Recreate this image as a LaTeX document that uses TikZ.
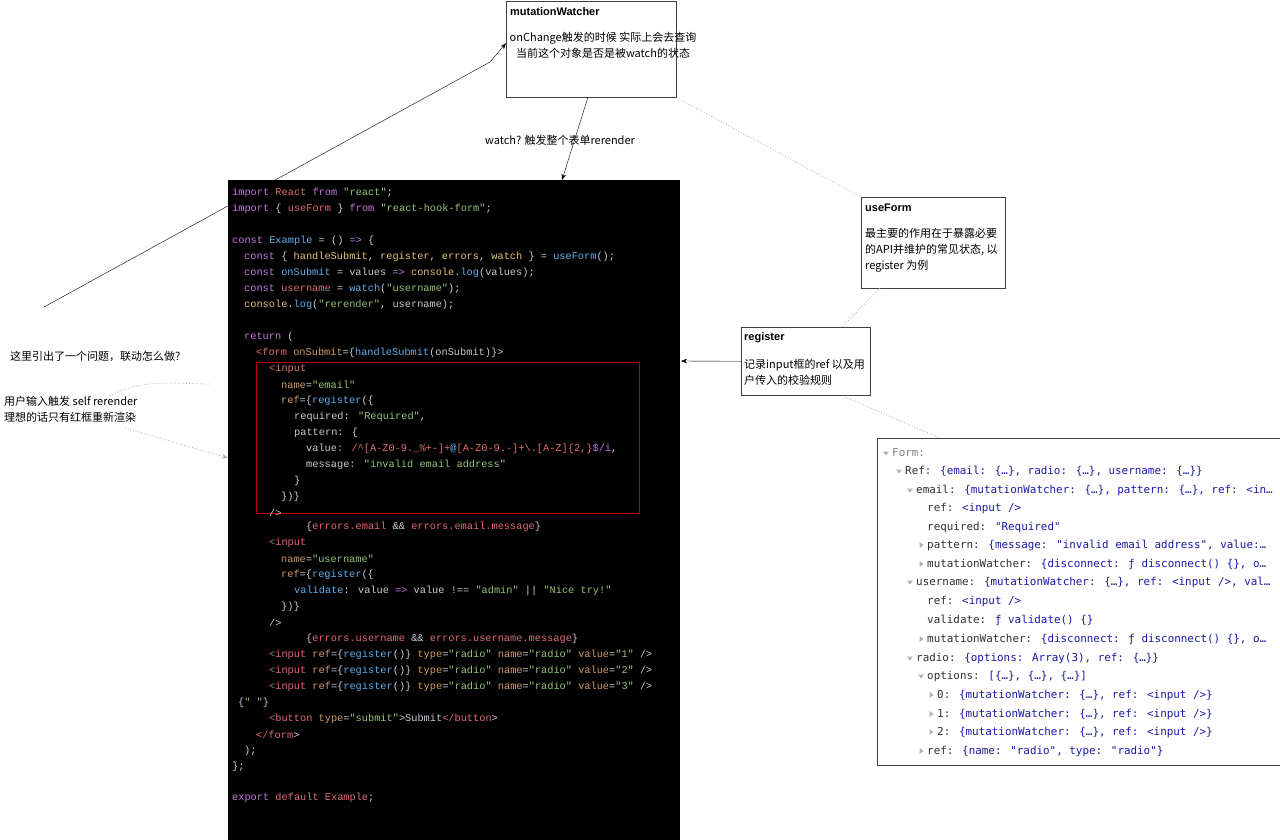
\documentclass[tikz,border=0pt]{standalone}
\usepackage{fontspec}
\setmainfont{Liberation Sans}
\newfontfamily\cjk{Noto Sans CJK SC}
\newfontfamily\codefont{Liberation Mono}
\newfontfamily\devfont{DejaVu Sans Mono}
\usetikzlibrary{arrows.meta, calc}
\definecolor{ckw}{HTML}{C678DD}
\definecolor{cvar}{HTML}{E06C75}
\definecolor{cstr}{HTML}{98C379}
\definecolor{cfn}{HTML}{61AFEF}
\definecolor{catt}{HTML}{D19A66}
\definecolor{cplain}{HTML}{C8CCD4}
\definecolor{cyel}{HTML}{E5C07B}
\definecolor{devkey}{HTML}{303030}
\definecolor{devval}{HTML}{1A1AA6}
\newcommand{\K}[1]{\textcolor{ckw}{#1}}
\newcommand{\V}[1]{\textcolor{cvar}{#1}}
\newcommand{\Str}[1]{\textcolor{cstr}{#1}}
\newcommand{\F}[1]{\textcolor{cfn}{#1}}
\newcommand{\A}[1]{\textcolor{catt}{#1}}
\newcommand{\Y}[1]{\textcolor{cyel}{#1}}
\newcommand{\DV}[1]{\textcolor{devval}{#1}}
\tikzset{
    code-line/.style={anchor=west, inner sep=0, text=cplain, font=\codefont\fontsize{10.3}{12}\selectfont},
    dev-line/.style={anchor=west, inner sep=0, text=devkey, font=\devfont\fontsize{10.9}{13}\selectfont},
    note-box/.style={draw=black!75, line width=.6pt, fill=white, anchor=north west, inner sep=0},
    note-title/.style={anchor=west, inner sep=0, font=\bfseries\fontsize{11}{13}\selectfont},
    note-text/.style={inner sep=0, font=\cjk\fontsize{11}{16}\selectfont},
    dot-line/.style={gray!70, dotted, line width=.8pt},
    open-tri/.pic={\fill[gray!60] (-3,-1.5) -- (3,-1.5) -- (0,2.5) -- cycle;},
    shut-tri/.pic={\fill[gray!60] (-1.5,-3) -- (-1.5,3) -- (2.5,0) -- cycle;},
}

\begin{document}
\begin{tikzpicture}[x=1pt, y=-1pt]
    \useasboundingbox[fill=white] (0,0) rectangle (1280,840);

    % CODE PANEL
    \node[fill=black, anchor=north west, minimum width=452, minimum height=660, inner sep=0] (CODE) at (228,180) {};
    \draw[red!75!black, line width=.8pt] (256,362) rectangle (639,513);
    \node[code-line] (L1)  at (232,193) {\K{import} \V{React} \K{from} \Str{"react"};};
    \node[code-line] (L2)  at (232,209) {\K{import} \{ \V{useForm} \} \K{from} \Str{"react-hook-form"};};
    \node[code-line] (L4)  at (232,241) {\K{const} \F{Example} = () \K{=>} \{};
    \node[code-line] (L5)  at (244,257) {\K{const} \{ \Y{handleSubmit}, \Y{register}, \Y{errors}, \Y{watch} \} = \F{useForm}();};
    \node[code-line] (L6)  at (244,273) {\K{const} \F{onSubmit} = values \K{=>} \Y{console}.\F{log}(values);};
    \node[code-line] (L7)  at (244,289) {\K{const} \V{username} = \F{watch}(\Str{"username"});};
    \node[code-line] (L8)  at (244,305) {\Y{console}.\F{log}(\Str{"rerender"}, username);};
    \node[code-line] (L10) at (244,337) {\K{return} (};
    \node[code-line] (L11) at (256,353) {\V{<form} \A{onSubmit}=\{\F{handleSubmit}(onSubmit)\}>};
    \node[code-line] (L12) at (269,369) {\V{<input}};
    \node[code-line] (L13) at (281,385) {\A{name}=\Str{"email"}};
    \node[code-line] (L14) at (281,401) {\A{ref}=\{\F{register}(\{};
    \node[code-line] (L15) at (294,417) {required: \Str{"Required"},};
    \node[code-line] (L16) at (294,433) {pattern: \{};
    \node[code-line] (L17) at (306,449) {value: \V{/\textasciicircum[A-Z0-9.\_\%+-]+}\F{@}\V{[A-Z0-9.-]+\textbackslash.[A-Z]\{2,\}}\K{\$/i},};
    \node[code-line] (L18) at (306,465) {message: \Str{"invalid email address"}};
    \node[code-line] (L19) at (294,481) {\}};
    \node[code-line] (L20) at (281,497) {\})\}};
    \node[code-line] (L21) at (269,513) {/>};
    \node[code-line] (L22) at (306,527) {\{\V{errors.email} \&\& \V{errors.email.message}\}};
    \node[code-line] (L23) at (269,543) {\V{<input}};
    \node[code-line] (L24) at (281,559) {\A{name}=\Str{"username"}};
    \node[code-line] (L25) at (281,575) {\A{ref}=\{\F{register}(\{};
    \node[code-line] (L26) at (294,591) {\F{validate}: value \K{=>} value !== \Str{"admin"} || \Str{"Nice try!"}};
    \node[code-line] (L27) at (281,607) {\})\}};
    \node[code-line] (L28) at (269,623) {/>};
    \node[code-line] (L29) at (306,639) {\{\V{errors.username} \&\& \V{errors.username.message}\}};
    \node[code-line] (L30) at (269,655) {\V{<input} \A{ref}=\{\F{register}()\} \A{type}=\Str{"radio"} \A{name}=\Str{"radio"} \A{value}=\Str{"1"} />};
    \node[code-line] (L31) at (269,671) {\V{<input} \A{ref}=\{\F{register}()\} \A{type}=\Str{"radio"} \A{name}=\Str{"radio"} \A{value}=\Str{"2"} />};
    \node[code-line] (L32) at (269,687) {\V{<input} \A{ref}=\{\F{register}()\} \A{type}=\Str{"radio"} \A{name}=\Str{"radio"} \A{value}=\Str{"3"} />};
    \node[code-line] (L33) at (238,703) {\{\Str{" "}\}};
    \node[code-line] (L34) at (269,719) {\V{<button} \A{type}=\Str{"submit"}>Submit\V{</button}>};
    \node[code-line] (L35) at (256,735) {\V{</form}>};
    \node[code-line] (L36) at (244,751) {);};
    \node[code-line] (L37) at (232,767) {\};};
    \node[code-line] (L39) at (232,798) {\K{export} \V{default} \V{Example};};

    % NOTE BOXES
    \node[note-box, minimum width=170, minimum height=96] (MW) at (506,1) {};
    \node[note-title] (MWT) at (510,12) {mutationWatcher};
    \node[note-text, align=center] (MWX) at (603,45) {onChange触发的时候 实际上会去查询\\当前这个对象是否是被watch的状态};

    \node[note-box, minimum width=144, minimum height=91] (UF) at (861,197) {};
    \node[note-title] (UFT) at (865,208) {useForm};
    \node[note-text, anchor=north west, align=left] (UFX) at (865,228) {最主要的作用在于暴露必要\\的API并维护的常见状态, 以\\register 为例};

    \node[note-box, minimum width=129, minimum height=68] (RG) at (741,327) {};
    \node[note-title] (RGT) at (744,338) {register};
    \node[note-text, anchor=north west, align=left] (RGX) at (744,359) {记录input框的ref 以及用\\户传入的校验规则};

    % LEFT NOTES
    \node[note-text, anchor=west] (Q)  at (10,356) {这里引出了一个问题，联动怎么做?};
    \node[note-text, anchor=north west, align=left] (SR) at (4,396) {用户输入触发 self rerender\\理想的话只有红框重新渲染};

    % DEVTOOLS PANEL
    \node[note-box, minimum width=403, minimum height=327] (DEV) at (877,438) {};
    \node[dev-line, text=gray] (D1)  at (892,453) {Form:};
    \node[dev-line] (D2)  at (905,471) {Ref: \DV{\{email: \{…\}, radio: \{…\}, username: \{…\}\}}};
    \node[dev-line] (D3)  at (916,490) {email: \DV{\{mutationWatcher: \{…\}, pattern: \{…\}, ref: <in…}};
    \node[dev-line] (D4)  at (927,508) {ref: \DV{<input />}};
    \node[dev-line] (D5)  at (927,527) {required: \DV{"Required"}};
    \node[dev-line] (D6)  at (927,545) {pattern: \DV{\{message: "invalid email address", value:…}};
    \node[dev-line] (D7)  at (927,564) {mutationWatcher: \DV{\{disconnect: ƒ disconnect() \{\}, o…}};
    \node[dev-line] (D8)  at (916,582) {username: \DV{\{mutationWatcher: \{…\}, ref: <input />, val…}};
    \node[dev-line] (D9)  at (927,601) {ref: \DV{<input />}};
    \node[dev-line] (D10) at (927,620) {validate: \DV{ƒ validate() \{\}}};
    \node[dev-line] (D11) at (927,639) {mutationWatcher: \DV{\{disconnect: ƒ disconnect() \{\}, o…}};
    \node[dev-line] (D12) at (916,658) {radio: \DV{\{options: Array(3), ref: \{…\}\}}};
    \node[dev-line] (D13) at (927,676) {options: \DV{[\{…\}, \{…\}, \{…\}]}};
    \node[dev-line] (D14) at (937,695) {0: \DV{\{mutationWatcher: \{…\}, ref: <input />\}}};
    \node[dev-line] (D15) at (937,714) {1: \DV{\{mutationWatcher: \{…\}, ref: <input />\}}};
    \node[dev-line] (D16) at (937,732) {2: \DV{\{mutationWatcher: \{…\}, ref: <input />\}}};
    \node[dev-line] (D17) at (927,751) {ref: \DV{\{name: "radio", type: "radio"\}}};
    \foreach \n in {D1, D2, D3, D8, D12, D13}
        \pic at ($(\n.west) + (-6,0)$) {open-tri};
    \foreach \n in {D6, D7, D11, D14, D15, D16, D17}
        \pic at ($(\n.west) + (-6,0)$) {shut-tri};

    % CONNECTIONS
    \coordinate (LS) at (44,307);
    \coordinate (LB) at (490,62);
    \draw[-{Stealth[length=6pt]}] (LS) -- (LB) -- ([yshift=6pt]MW.west);
    \draw[-{Stealth[length=6pt]}] (588,97) -- (562,180);
    \node[note-text] (WL) at (560,140) {watch?  触发整个表单rerender};
    \draw[dot-line] (MW.south east) -- (UF.north west);
    \draw[dot-line] (880,288) -- (842,327);
    \draw[dot-line] (845,397) -- (940,438);
    \draw[-{Stealth[length=6pt]}] (RG.west) -- (681,361);
    \draw[dot-line] (110,396) .. controls (140,378) and (180,384) .. (210,384);
    \draw[dot-line, -{Stealth[length=6pt]}] (125,428) -- (228,458);

\end{tikzpicture}
\end{document}
